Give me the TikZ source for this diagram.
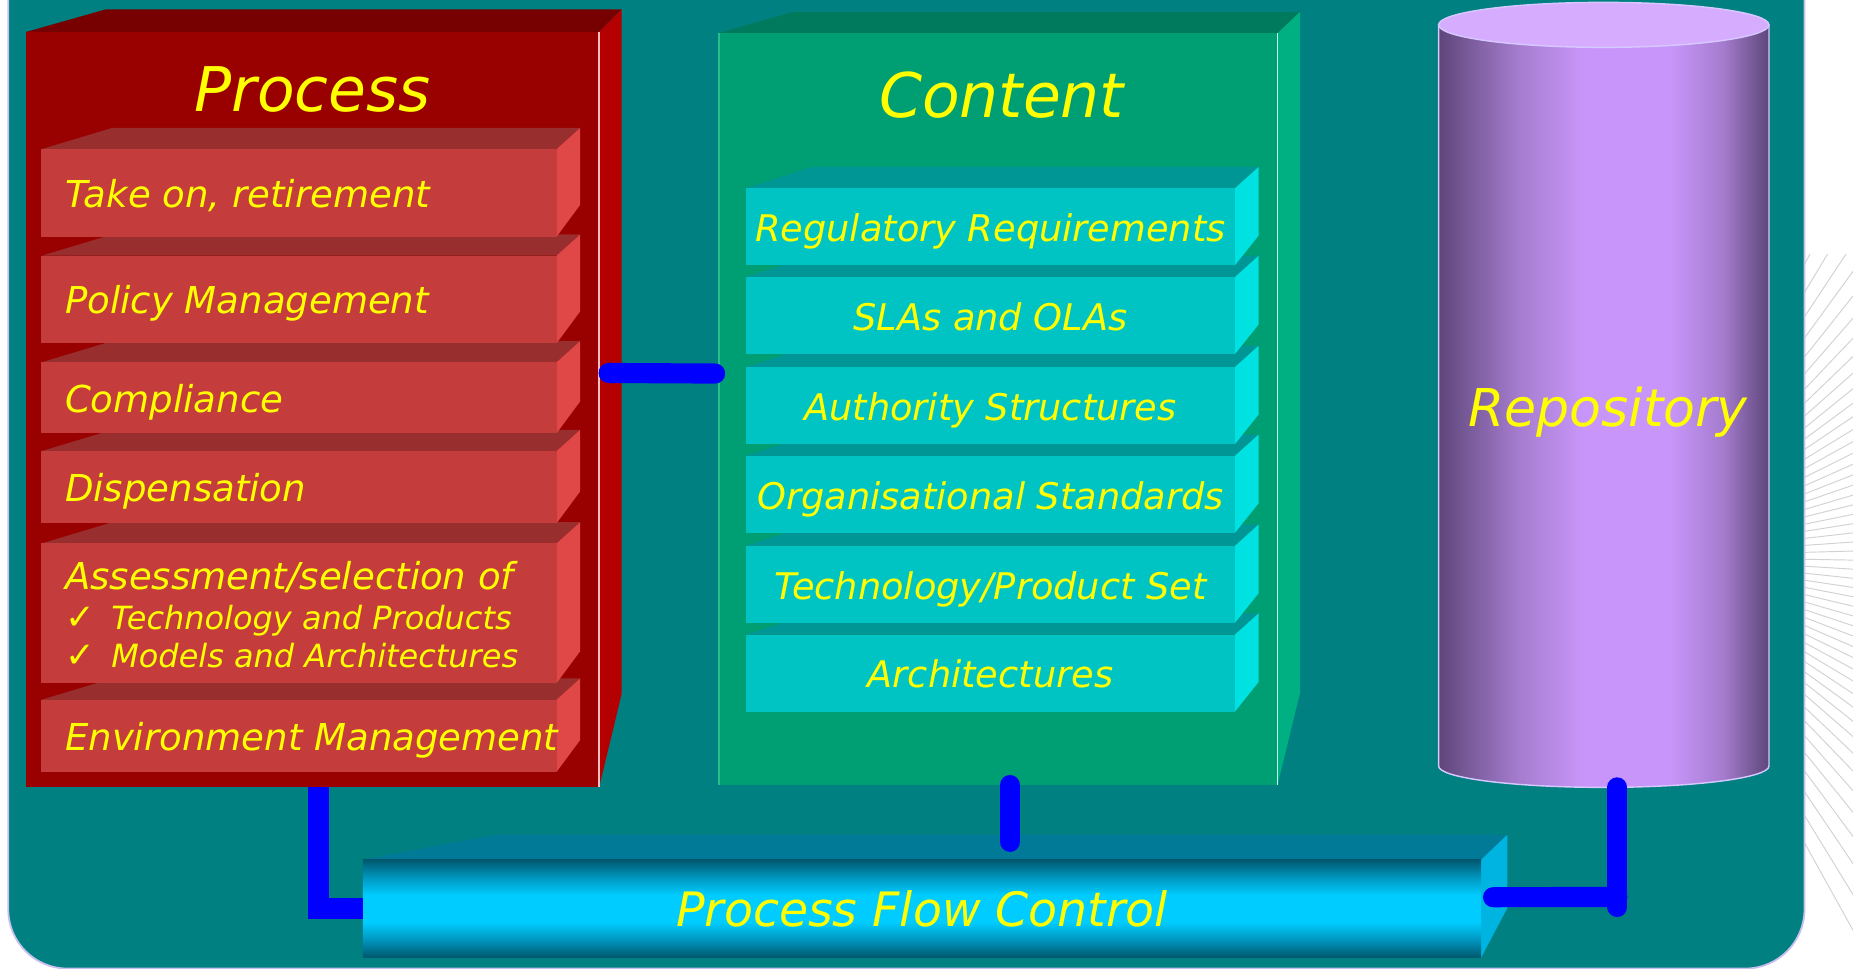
\documentclass[tikz,border=0pt]{standalone}
\usepackage{fontspec}
\setmainfont{DejaVu Sans}

\definecolor{bgteal}{RGB}{0,128,128}
\definecolor{bgedge}{RGB}{200,190,240}
\definecolor{procfront}{RGB}{153,0,0}
\definecolor{proctop}{RGB}{119,0,0}
\definecolor{procside}{RGB}{180,0,0}
\definecolor{procline}{RGB}{255,190,190}
\definecolor{slabred}{RGB}{196,60,60}
\definecolor{slabredtop}{RGB}{152,46,46}
\definecolor{slabredside}{RGB}{224,72,72}
\definecolor{contfront}{RGB}{0,158,115}
\definecolor{conttop}{RGB}{0,122,92}
\definecolor{contside}{RGB}{0,176,130}
\definecolor{contline}{RGB}{190,255,235}
\definecolor{contedge}{RGB}{40,190,140}
\definecolor{slabcyan}{RGB}{0,196,196}
\definecolor{slabcyantop}{RGB}{0,150,150}
\definecolor{slabcyanside}{RGB}{0,225,225}
\definecolor{pfcdark}{RGB}{0,88,110}
\definecolor{pfcmid}{RGB}{0,150,190}
\definecolor{pfclight}{RGB}{0,204,255}
\definecolor{pfctop}{RGB}{0,122,150}
\definecolor{pfcside}{RGB}{0,180,225}
\definecolor{repodark}{RGB}{94,70,122}
\definecolor{repomid}{RGB}{165,124,206}
\definecolor{repolight}{RGB}{200,150,250}
\definecolor{repotop}{RGB}{214,172,255}
\definecolor{repoline}{RGB}{215,200,255}
\definecolor{linkblue}{RGB}{0,0,255}
\definecolor{labelyellow}{RGB}{255,255,0}

\pgfdeclarehorizontalshading{repobody}{100bp}{color(0bp)=(repodark); color(25bp)=(repodark); color(37bp)=(repomid); color(47bp)=(repolight); color(60bp)=(repolight); color(68bp)=(repomid); color(75bp)=(repodark); color(100bp)=(repodark)}
\pgfdeclareverticalshading{pfcbar}{100bp}{color(0bp)=(pfcdark); color(25bp)=(pfcdark); color(34bp)=(pfcmid); color(43bp)=(pfclight); color(57bp)=(pfclight); color(66bp)=(pfcmid); color(75bp)=(pfcdark); color(100bp)=(pfcdark)}

\begin{document}
\begin{tikzpicture}[x=1pt,y=-1pt,
        every node/.style={inner sep=0pt,outer sep=0pt},
        boxtitle/.style={text=labelyellow,font=\itshape\fontsize{52}{60}\selectfont},
        redtext/.style={text=labelyellow,font=\itshape\fontsize{31.3}{36}\selectfont},
        subtext/.style={text=labelyellow,font=\itshape\fontsize{27}{32}\selectfont},
        cyantext/.style={text=labelyellow,font=\itshape\fontsize{31}{36}\selectfont},
        redslab/.style={redtext,fill=slabred,minimum width=435pt,text height=24pt,text depth=0pt},
        cyanslab/.style={cyantext,fill=slabcyan,minimum width=413pt,text height=25pt,text depth=0pt},
        link/.style={color=linkblue,line width=17pt},
        burst/.style={draw=gray!35,line width=0.8pt}]
            \useasboundingbox (0,0) rectangle (1565,818);
            \fill[white] (0,0) rectangle (1565,818);

            % grey rays at the right border
            \begin{scope}
                \clip (1524,215) rectangle (1565,818);
                \foreach \ang in {-74,-71.5,...,62}
                    \draw[burst] (1390,470) ++(\ang:60) -- ++(\ang:500);
            \end{scope}

            % teal panel
            \fill[bgteal,draw=bgedge,line width=1.5pt,rounded corners=50pt] (7,-80) rectangle (1524,818);

            % Process
            \fill[proctop] (22,27) -- (89,8) -- (525,8) -- (506,27) -- cycle;
            \fill[procside] (506,27) -- (525,8) -- (525,586) -- (506,665) -- cycle;
            \node[fill=procfront,minimum width=484pt,minimum height=638pt] (process) at (264,346) {};
            \draw[procline,line width=1.5pt] (process.north east) -- (process.south east);
            \node[boxtitle,anchor=base] (processTitle) at (264,94) {Process};

            % slabs, lowest first
            \foreach \n/\tp/\bt/\txt in {environment/591/652/{Environment Management},
                    assess/459/577/{},
                    dispensation/381/442/{Dispensation},
                    compliance/306/366/{Compliance},
                    policy/216/290/{Policy Management},
                    take/126/200/{Take on, retirement}} {
                \fill[slabredtop] (35,\tp) -- (95,\tp-18) -- (490,\tp-18) -- (470,\tp) -- cycle;
                \fill[slabredside] (470,\tp) -- (490,\tp-18) -- (490,\bt-27) -- (470,\bt) -- cycle;
                \node[redslab,minimum height=\bt-\tp] (\n) at (252.5,{(\tp+\bt)/2}) {\makebox[395pt][l]{\txt}};
            }
            \node[redtext,anchor=base west] (assessHead) at ([xshift=20pt,yshift=20pt]assess.west) {Assessment/selection of};
            \node[subtext,anchor=base west] (assessTech) at ([xshift=20pt,yshift=-14pt]assess.west) {\makebox[39pt][l]{\upshape\fontsize{30}{32}\selectfont ✓}Technology and Products};
            \node[subtext,anchor=base west] (assessModels) at ([xshift=20pt,yshift=-46pt]assess.west) {\makebox[39pt][l]{\upshape\fontsize{30}{32}\selectfont ✓}Models and Architectures};

            % Content
            \fill[conttop] (607,28) -- (670,10) -- (1098,10) -- (1079,28) -- cycle;
            \fill[contside] (1079,28) -- (1098,10) -- (1098,585) -- (1079,663) -- cycle;
            \node[fill=contfront,minimum width=472pt,minimum height=635pt] (content) at (843,345.5) {};
            \draw[contline,line width=1.5pt] (content.north east) -- (content.south east);
            \draw[contedge,line width=1.5pt] (content.north west) -- (content.south west);
            \node[boxtitle,anchor=base] (contentTitle) at (846,99) {Content};

            \foreach \n/\tp/\txt in {architectures/536/{Architectures},
                    techset/461/{Technology/Product Set},
                    orgstd/385/{Organisational Standards},
                    authority/310/{Authority Structures},
                    slas/234/{SLAs and OLAs},
                    regulatory/159/{Regulatory Requirements}} {
                \fill[slabcyantop] (630,\tp) -- (686,\tp-18) -- (1063,\tp-18) -- (1043,\tp) -- cycle;
                \fill[slabcyanside] (1043,\tp) -- (1063,\tp-18) -- (1063,\tp+40) -- (1043,\tp+65) -- cycle;
                \node[cyanslab,minimum height=65pt] (\n) at (836.5,\tp+32.5) {\txt};
            }

            % Repository
            \shade[shading=repobody,draw=repoline,line width=1.2pt] (1215,21) -- (1215,647)
                arc[start angle=180,end angle=0,x radius=139.5,y radius=18] -- (1494,21) -- cycle;
            \draw[repoline,line width=1.2pt,fill=repotop] (1354.5,21) ellipse[x radius=139.5,y radius=19];
            \node[minimum width=279pt,minimum height=663pt] (repo) at (1354.5,333.5) {};
            \node[text=labelyellow,font=\itshape\fontsize{44}{50}\selectfont,anchor=base] (repoLabel) at (1358,360) {Repository};

            % Process Flow Control
            \fill[pfctop] (306.5,726) -- (418,705) -- (1273,705) -- (1251,726) -- cycle;
            \fill[pfcside] (1251,726) -- (1273,705) -- (1273,767) -- (1251,808.5) -- cycle;
            \node[shading=pfcbar,minimum width=944.5pt,minimum height=82.5pt,
                text=labelyellow,font=\itshape\fontsize{40}{46}\selectfont] (pfc) at (778.75,767.25) {Process Flow Control};

            % links
            \coordinate (pfcTop) at (853,711);
            \coordinate (repoJoint) at (1366,757.5);
            \path [link,line cap=round] ([xshift=8pt,yshift=31pt]process.east) edge ([xshift=-3pt,yshift=30pt]content.west);
            \draw [link] ([xshift=5pt]process.south) |- (pfc.west);
            \path [link,line cap=round] (content.south -| pfcTop) edge (pfcTop);
            \path [link,line cap=round] ([xshift=10pt,yshift=9.5pt]pfc.east) edge (repoJoint);
            \path [link,line cap=round] (repo.south -| repoJoint) edge ([yshift=-8.5pt]repoJoint);
\end{tikzpicture}
\end{document}
